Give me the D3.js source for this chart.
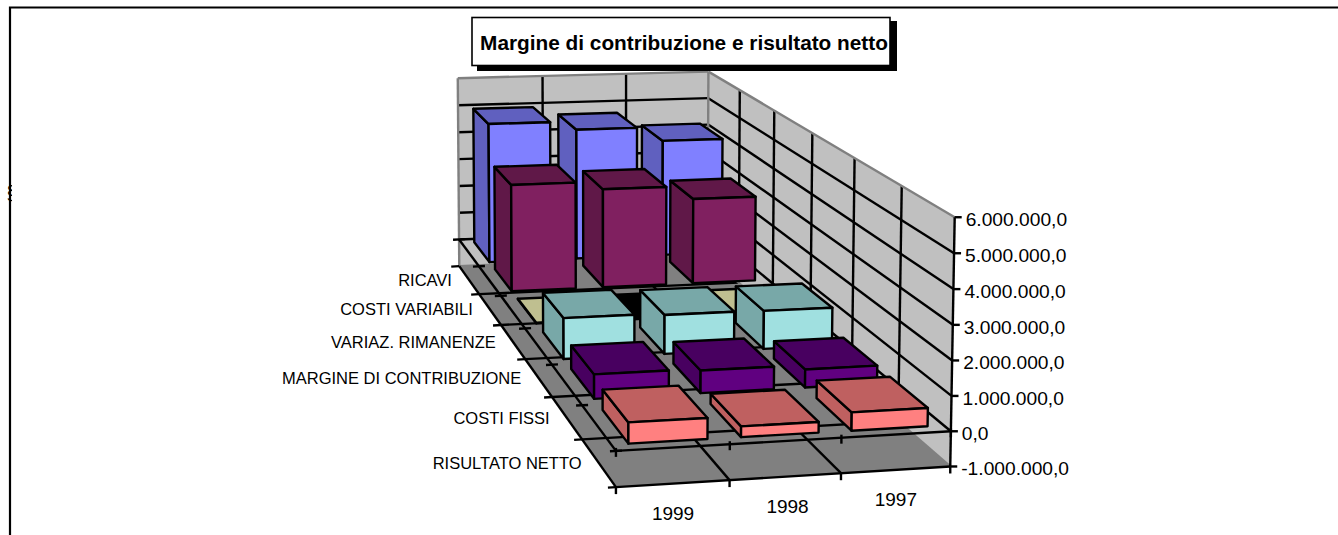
<!DOCTYPE html>
<html><head><meta charset="utf-8">
<script src="https://cdn.jsdelivr.net/npm/d3@7"></script>
<style>html,body{margin:0;padding:0;background:#fff;overflow:hidden}svg{display:block}text{font-family:"Liberation Sans",Arial,sans-serif;fill:#000}</style>
</head><body><svg id="c" width="1338" height="535"></svg>
<script>
const title = "Margine di contribuzione e risultato netto";
const years = ["1999","1998","1997"];
const categories = ["RICAVI","COSTI VARIABILI","VARIAZ. RIMANENZE","MARGINE DI CONTRIBUZIONE","COSTI FISSI","RISULTATO NETTO"];
const ricavi = [4950000,4650000,4150000];
const costiVariabili = [3640000,3380000,2930000];
const variazRimanenze = [15000,-15000,15000];
const margine = [1270000,1220000,1200000];
const costiFissi = [720000,670000,540000];
const risultato = [590000,300000,520000];
const seriesValues = [ricavi,costiVariabili,variazRimanenze,margine,costiFissi,risultato];
const seriesColors = ["#8080ff","#802060","#ffffc0","#a0e0e0","#600080","#ff8080"];
const valueTicks = [-1000000,0,1000000,2000000,3000000,4000000,5000000,6000000];
const tickLabels = ["-1.000.000,0","0,0","1.000.000,0","2.000.000,0","3.000.000,0","4.000.000,0","5.000.000,0","6.000.000,0"];

const svg = d3.select("#c");
const fitPts = [[0,0,0,616,487],[1,0,0,950,466],[1,0,1,955,217],[0,1,0,459,265],[1,1,0,708,257],[0,1,1,458,79],[1,1,1,708,71],[0,0,1/7,616,452],[1,0,1/7,950.7,431],[0,1,1/7,459,239]];
function solve(A,b){const n=b.length;const M=A.map((r,i)=>[...r,b[i]]);
 for(let i=0;i<n;i++){let p=i;for(let k=i+1;k<n;k++)if(Math.abs(M[k][i])>Math.abs(M[p][i]))p=k;[M[i],M[p]]=[M[p],M[i]];
  for(let k=0;k<n;k++)if(k!==i){const f=M[k][i]/M[i][i];for(let j=i;j<=n;j++)M[k][j]-=f*M[i][j];}}
 return M.map((r,i)=>r[n]/r[i]);}
const rows=[],rhs=[];
fitPts.forEach(([u,v,w,x,y])=>{rows.push([u,v,w,1,0,0,0,0,-x*u,-x*v,-x*w]);rhs.push(x);rows.push([0,0,0,0,u,v,w,1,-y*u,-y*v,-y*w]);rhs.push(y);});
const AtA=d3.range(11).map(i=>d3.range(11).map(j=>d3.sum(rows,r=>r[i]*r[j])));
const Atb=d3.range(11).map(i=>d3.sum(rows,(r,k)=>r[i]*rhs[k]));
const P=solve(AtA,Atb);
function proj(u,v,w){const d=P[8]*u+P[9]*v+P[10]*w+1;return [(P[0]*u+P[1]*v+P[2]*w+P[3])/d,(P[4]*u+P[5]*v+P[6]*w+P[7])/d];}

const xS=d3.scaleBand().domain(years).range([0,1]);
const dS=d3.scaleBand().domain(categories).range([1,0]);
const zS=d3.scaleLinear().domain([-1000000,6000000]).range([0,1]);
const line=d3.line();
const LW=2.4;
function poly(g,pts,fill,stroke,sw){g.append("path").attr("d",line(pts)+"Z").attr("fill",fill).attr("stroke",stroke||"none").attr("stroke-width",sw||0).attr("stroke-linejoin","round");}
function seg(g,a,b,stroke,sw){g.append("path").attr("d",line([a,b])).attr("fill","none").attr("stroke",stroke).attr("stroke-width",sw);}
const GREY="#808080",WALL="#c0c0c0",FLOOR="#808080";
// frame
const defs=svg.append("defs");
defs.append("clipPath").attr("id","clipL").append("rect").attr("x",0).attr("y",0).attr("width",12).attr("height",535);
const frame=svg.append("g");
frame.append("path").attr("d","M10,535V7.5H1338").attr("fill","none").attr("stroke","#000").attr("stroke-width",2.2);
frame.append("g").attr("clip-path","url(#clipL)").append("text").attr("x",12).attr("y",195).attr("text-anchor","middle").attr("font-size",20).attr("dominant-baseline","middle").text("§");

const g=svg.append("g");
poly(g,[proj(0,1,0),proj(1,1,0),proj(1,1,1),proj(0,1,1)],WALL);
poly(g,[proj(1,1,0),proj(1,0,0),proj(1,0,1),proj(1,1,1)],WALL);
poly(g,[proj(0,0,0),proj(1,0,0),proj(1,1,0),proj(0,1,0)],FLOOR);
valueTicks.forEach(t=>{const w=zS(t);if(t===valueTicks[0]||t===valueTicks[7])return;
 seg(g,proj(0,1,w),proj(1,1,w),"#000",LW);seg(g,proj(1,1,w),proj(1,0,w),"#000",LW);});
const xEdges=d3.range(4).map(i=>i/3), dEdges=d3.range(7).map(i=>i/6);
xEdges.slice(1,3).forEach(u=>{seg(g,proj(u,1,0.14),proj(u,1,1),"#000",LW);seg(g,proj(u,0,0),proj(u,1,0),"#000",LW);});
dEdges.slice(1,6).forEach(v=>{seg(g,proj(1,v,0),proj(1,v,1),"#000",LW);seg(g,proj(0,v,0),proj(1,v,0),"#000",LW);});
[[proj(0,1,0),proj(0,1,1)],[proj(0,1,1),proj(1,1,1)],[proj(1,1,1),proj(1,1,0)],[proj(1,1,1),proj(1,0,1)],[proj(1,1,0),proj(1,0,0)],[proj(0,1,0),proj(1,1,0)]].forEach(s=>seg(g,s[0],s[1],GREY,LW));
const w0=zS(0);
seg(g,proj(0,1,w0),proj(0,0,w0),"#000",LW);
seg(g,proj(0,0,w0),proj(1,0,w0),"#000",LW);
seg(g,proj(0,1,0),proj(0,0,0),"#000",LW);
seg(g,proj(0,0,0),proj(1,0,0),"#000",LW);
seg(g,proj(1,0,0),proj(1,0,1),"#000",LW);
xEdges.forEach(u=>{let p=proj(u,0,0);seg(g,p,[p[0],p[1]+7],"#000",LW);p=proj(u,0,w0);seg(g,[p[0],p[1]-3],[p[0],p[1]+6],"#000",LW);});
dEdges.forEach(v=>{let p=proj(0,v,0);seg(g,[p[0]-8,p[1]+0.5],[p[0],p[1]],"#000",LW);p=proj(0,v,w0);seg(g,[p[0]-6,p[1]+0.3],[p[0]+6,p[1]-0.3],"#000",LW);});
valueTicks.forEach(t=>{const p=proj(1,0,zS(t));seg(g,p,[p[0]+7,p[1]],"#000",LW);});
// bars
const padX=0.15,padD=0.13;
function shade(c,f){const r=d3.rgb(c);return d3.rgb(r.r*f,r.g*f,r.b*f).formatHex();}
categories.forEach((cat,ci)=>{
 years.slice().reverse().forEach(yr=>{
  const yi=years.indexOf(yr), val=seriesValues[ci][yi];
  const u0=xS(yr)+xS.bandwidth()*padX,u1=xS(yr)+xS.bandwidth()*(1-padX);
  const v0=dS(cat)+dS.bandwidth()*padD,v1=dS(cat)+dS.bandwidth()*(1-padD);
  const a=zS(Math.min(0,val)),b=zS(Math.max(0,val));
  const col=val<0?"#000000":seriesColors[ci];
  const bar=g.append("g");
  poly(bar,[proj(u0,v1,a),proj(u0,v0,a),proj(u0,v0,b),proj(u0,v1,b)],shade(col,.75),"#000",LW);
  poly(bar,[proj(u0,v1,b),proj(u1,v1,b),proj(u1,v0,b),proj(u0,v0,b)],shade(col,.75),"#000",LW);
  poly(bar,[proj(u0,v0,a),proj(u1,v0,a),proj(u1,v0,b),proj(u0,v0,b)],col,"#000",LW);
 });
});
// labels
categories.forEach(c=>{const p=proj(0,dS(c)+dS.bandwidth()/2,0);
 g.append("text").attr("x",p[0]-17).attr("y",p[1]+6).attr("text-anchor","end").attr("font-size",16.5).text(c);});
years.forEach(y=>{const p=proj(xS(y)+xS.bandwidth()/2,0,0);
 g.append("text").attr("x",p[0]+(y==="1998"?2:0)).attr("y",p[1]+36).attr("text-anchor","middle").attr("font-size",19).text(y);});
valueTicks.forEach((t,i)=>{const p=proj(1,0,zS(t));
 g.append("text").attr("x",p[0]+11).attr("y",p[1]+9).attr("font-size",19.2).text(tickLabels[i]);});
// title
const tg=svg.append("g");
tg.append("rect").attr("x",477).attr("y",21).attr("width",420).attr("height",50).attr("fill","#000");
tg.append("rect").attr("x",472).attr("y",17.5).attr("width",418).attr("height",48).attr("fill","#fff").attr("stroke","#000").attr("stroke-width",1.6);
tg.append("text").attr("x",684).attr("y",50).attr("text-anchor","middle").attr("font-size",20.8).attr("font-weight","bold").text(title);
</script></body></html>
